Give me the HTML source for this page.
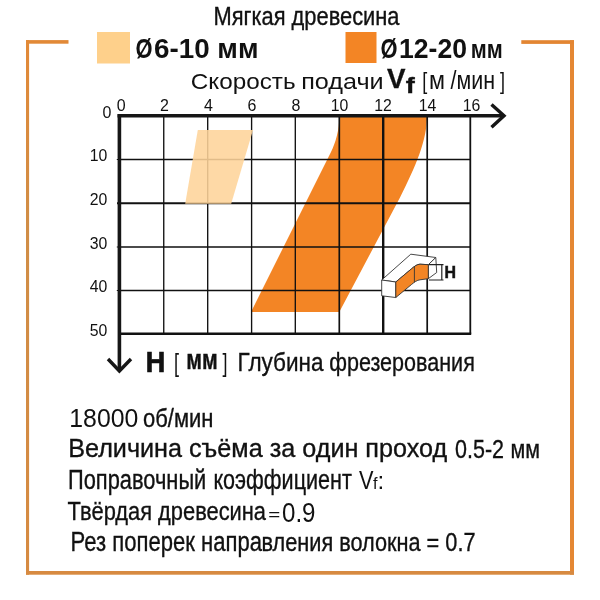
<!DOCTYPE html>
<html lang="ru">
<head>
<meta charset="utf-8">
<title>Мягкая древесина</title>
<style>
html,body{margin:0;padding:0;background:#fff;}
body{width:600px;height:600px;overflow:hidden;}
svg{display:block;}
text{font-family:"Liberation Sans",sans-serif;fill:#111;}
.b{font-weight:bold;}
.s{stroke:#111;stroke-width:0.35px;}
.tick{font-size:17.3px;fill:#2a2a2a;}
</style>
</head>
<body>
<svg width="600" height="600" viewBox="0 0 600 600">
<rect width="600" height="600" fill="#fff"/>

<!-- outer orange frame -->
<defs>
<linearGradient id="lg" x1="0" y1="0" x2="0" y2="1">
<stop offset="0" stop-color="#e28937"/><stop offset="0.35" stop-color="#d08d46"/><stop offset="1" stop-color="#d68a41"/>
</linearGradient>
</defs>
<rect x="26" y="40.1" width="3.1" height="534.6" fill="url(#lg)"/>
<rect x="570" y="40.2" width="4" height="534.5" fill="#e48733"/>
<rect x="26" y="40.1" width="42.5" height="3.6" fill="#e28937"/>
<rect x="521.3" y="40.2" width="52.7" height="3.7" fill="#e38532"/>
<rect x="26" y="571" width="548" height="3.7" fill="#d78a41"/>

<!-- title -->
<text class="s" x="213.5" y="24.6" font-size="25" textLength="186" lengthAdjust="spacingAndGlyphs">Мягкая древесина</text>

<!-- legend -->
<rect x="97" y="32" width="33" height="31.5" fill="#fed08b"/>
<text class="b" x="135.5" y="57.5" font-size="28" textLength="17" lengthAdjust="spacingAndGlyphs">Ø</text>
<text class="b" x="154" y="57.5" font-size="28.5" textLength="104.5" lengthAdjust="spacingAndGlyphs">6-10 мм</text>
<rect x="345.5" y="32" width="31" height="31" fill="#f38525"/>
<text class="b" x="380.5" y="57.5" font-size="28" textLength="17" lengthAdjust="spacingAndGlyphs">Ø</text>
<text class="b" x="399" y="57.5" font-size="28.5" textLength="68" lengthAdjust="spacingAndGlyphs">12-20</text>
<text class="b" x="470.8" y="57.5" font-size="25" textLength="32" lengthAdjust="spacingAndGlyphs">мм</text>

<!-- x axis title -->
<text x="190.8" y="88.9" font-size="22.8" textLength="104.8" lengthAdjust="spacingAndGlyphs">Скорость</text>
<text x="301.2" y="88.9" font-size="22.8" textLength="82.5" lengthAdjust="spacingAndGlyphs">подачи</text>
<text class="b" x="387" y="87.8" font-size="28" textLength="18.5" stroke="#111" stroke-width="0.3" lengthAdjust="spacingAndGlyphs">V</text>
<text class="b" x="405.7" y="93.3" font-size="22" textLength="9" stroke="#111" stroke-width="0.4" lengthAdjust="spacingAndGlyphs">f</text>
<text x="422.3" y="89" font-size="24.5" fill="#223" textLength="5" lengthAdjust="spacingAndGlyphs">[</text>
<text x="429" y="88.5" font-size="25" textLength="16" lengthAdjust="spacingAndGlyphs">м</text>
<text x="450.5" y="88.5" font-size="25" textLength="44.5" lengthAdjust="spacingAndGlyphs">/мин</text>
<text x="500" y="89" font-size="24.5" fill="#223" textLength="5" lengthAdjust="spacingAndGlyphs">]</text>

<!-- dark region (under grid) -->
<path d="M339.3 116H427C427 140 416 166 400 197.5L339.3 312H251L331 152C335.5 143 339.3 130 339.3 117Z" fill="#f38525"/>

<!-- grid -->
<g stroke="#111" fill="none">
<g stroke-width="1.35">
<path d="M163.75 116V334M207.7 116V334M251.6 116V334M295.3 116V334"/>
<path d="M427.2 116V334" stroke-width="1.7"/>
<path d="M120 159.5H470M120 247H470M120 290.5H470"/>
</g>
<path d="M339.3 116V334" stroke-width="1.7"/>
<path d="M383.2 116V334" stroke-width="2.4"/>
<path d="M470.3 116V334" stroke-width="1.8"/>
<path d="M117 203.2H470" stroke-width="2"/>
<path d="M116.8 159.5H120M116.8 247H120M116.8 290.5H120" stroke-width="1.2"/>
<path d="M119 333.7H471.2" stroke-width="2.4"/>
</g>

<!-- light region (over grid) -->
<path d="M197.8 130H253L231.2 203.8H185.2Z" fill="#fed49a" fill-opacity="0.88"/>

<!-- axes -->
<g stroke="#161616" fill="none">
<path d="M117.5 115.8H503" stroke-width="3.4"/>
<path d="M119.4 114.2V370" stroke-width="3.6"/>
<path d="M491.5 104.5L504 115.8L491.5 127.2" stroke-width="3.4"/>
<path d="M108 359L119.4 371L131 359" stroke-width="3.4"/>
</g>

<!-- top tick labels -->
<g class="tick" text-anchor="middle">
<text x="121.3" y="110.5" textLength="8.9" lengthAdjust="spacingAndGlyphs">0</text>
<text x="164.5" y="110.5" textLength="8.9" lengthAdjust="spacingAndGlyphs">2</text>
<text x="208.5" y="110.5" textLength="8.9" lengthAdjust="spacingAndGlyphs">4</text>
<text x="252" y="110.5" textLength="8.9" lengthAdjust="spacingAndGlyphs">6</text>
<text x="296" y="110.5" textLength="8.9" lengthAdjust="spacingAndGlyphs">8</text>
<text x="339.5" y="110.5" textLength="17.6" lengthAdjust="spacingAndGlyphs">10</text>
<text x="383" y="110.5" textLength="17.6" lengthAdjust="spacingAndGlyphs">12</text>
<text x="427.5" y="110.5" textLength="17.6" lengthAdjust="spacingAndGlyphs">14</text>
<text x="471.5" y="110.5" textLength="17.6" lengthAdjust="spacingAndGlyphs">16</text>
</g>
<!-- left tick labels -->
<g class="tick" text-anchor="end">
<text x="111.3" y="117.5" textLength="8.9" lengthAdjust="spacingAndGlyphs">0</text>
<text x="107.4" y="161" textLength="17.6" lengthAdjust="spacingAndGlyphs">10</text>
<text x="107.4" y="205" textLength="17.6" lengthAdjust="spacingAndGlyphs">20</text>
<text x="107.4" y="248.5" textLength="17.6" lengthAdjust="spacingAndGlyphs">30</text>
<text x="107.4" y="292" textLength="17.6" lengthAdjust="spacingAndGlyphs">40</text>
<text x="107.4" y="336" textLength="17.6" lengthAdjust="spacingAndGlyphs">50</text>
</g>

<!-- little workpiece icon -->
<g stroke="#333" stroke-width="0.9" stroke-linejoin="round">
<path d="M381.7 280L410.8 254.2L435.8 257.5L428.3 264.7L420 264.2C417 264.3 414.5 266.3 411.5 268.8L395.8 282Z" fill="#fff"/>
<path d="M381.7 280L395.8 282V297.5L381.7 295.8Z" fill="#fff"/>
<path d="M428.3 264.7L435.8 257.5L436.7 272.5L428.3 278.7Z" fill="#fff"/>
<path d="M395.8 282L411.5 268.8C414.5 266.3 417 264.3 420 264.2L428.3 264.7V278.7L420 279.8C417 280.2 414.5 282 411.5 284.5L395.8 297.5Z" fill="#f38525"/>
<path d="M414.4 266.4V282.2" fill="none"/>
<path d="M429 264.7H443.5M429 280H443.5M441.8 264.7V280" fill="none" stroke="#222" stroke-width="1.2"/>
</g>
<text class="b" x="444.5" y="277.6" font-size="16.5" textLength="11.5" stroke="#111" stroke-width="0.5" lengthAdjust="spacingAndGlyphs">H</text>

<!-- y axis title -->
<text class="b" x="145.8" y="371.6" font-size="29.5" textLength="19.5" stroke="#111" stroke-width="0.7" lengthAdjust="spacingAndGlyphs">H</text>
<text x="174" y="371.5" font-size="25.5" fill="#223" textLength="5" lengthAdjust="spacingAndGlyphs">[</text>
<text class="b" x="186.3" y="369" font-size="27" textLength="31.5" stroke="#111" stroke-width="0.4" lengthAdjust="spacingAndGlyphs">мм</text>
<text x="222.5" y="371.5" font-size="25.5" fill="#223" textLength="5" lengthAdjust="spacingAndGlyphs">]</text>
<text class="s" x="237.5" y="370.8" font-size="26.5" textLength="86" lengthAdjust="spacingAndGlyphs">Глубина</text>
<text class="s" x="329.3" y="370.8" font-size="26.5" textLength="145.5" lengthAdjust="spacingAndGlyphs">фрезерования</text>

<!-- notes -->
<text x="69.3" y="427.3" font-size="25.5" fill="#3a3a40" textLength="69" lengthAdjust="spacingAndGlyphs">18000</text>
<text class="s" x="143" y="427.3" font-size="25.5" textLength="70.5" lengthAdjust="spacingAndGlyphs">об/мин</text>

<text class="s" x="68.2" y="457" font-size="25.5" textLength="379" lengthAdjust="spacingAndGlyphs">Величина съёма за один проход</text>
<text class="s" x="455" y="458.2" font-size="25.5" textLength="49" lengthAdjust="spacingAndGlyphs">0.5-2</text>
<text class="s" x="510.5" y="458.2" font-size="25.5" textLength="29.5" lengthAdjust="spacingAndGlyphs">мм</text>

<text class="s" x="68" y="489" font-size="27" textLength="138.3" lengthAdjust="spacingAndGlyphs">Поправочный</text>
<text class="s" x="213.4" y="489" font-size="27" textLength="138.5" lengthAdjust="spacingAndGlyphs">коэффициент</text>
<text x="359" y="488.6" font-size="26.5" fill="#333" textLength="14.5" lengthAdjust="spacingAndGlyphs">V</text>
<text x="373" y="488.6" font-size="16" fill="#333" textLength="4.5" lengthAdjust="spacingAndGlyphs">f</text>
<text x="377.6" y="488.6" font-size="24" fill="#222">:</text>

<text class="s" x="67.5" y="519.7" font-size="26.3" textLength="198.5" lengthAdjust="spacingAndGlyphs">Твёрдая древесина</text>
<text x="268.3" y="520.3" font-size="17" fill="#333" textLength="12" lengthAdjust="spacingAndGlyphs">=</text>
<text x="282" y="522" font-size="27.5" fill="#444" textLength="33.5" lengthAdjust="spacingAndGlyphs">0.9</text>

<text class="s" x="70.5" y="551.4" font-size="27" textLength="191.5" lengthAdjust="spacingAndGlyphs">Рез поперек напра</text>
<text class="s" x="261.5" y="551" font-size="26" textLength="214" lengthAdjust="spacingAndGlyphs">вления волокна = 0.7</text>
</svg>
</body>
</html>
